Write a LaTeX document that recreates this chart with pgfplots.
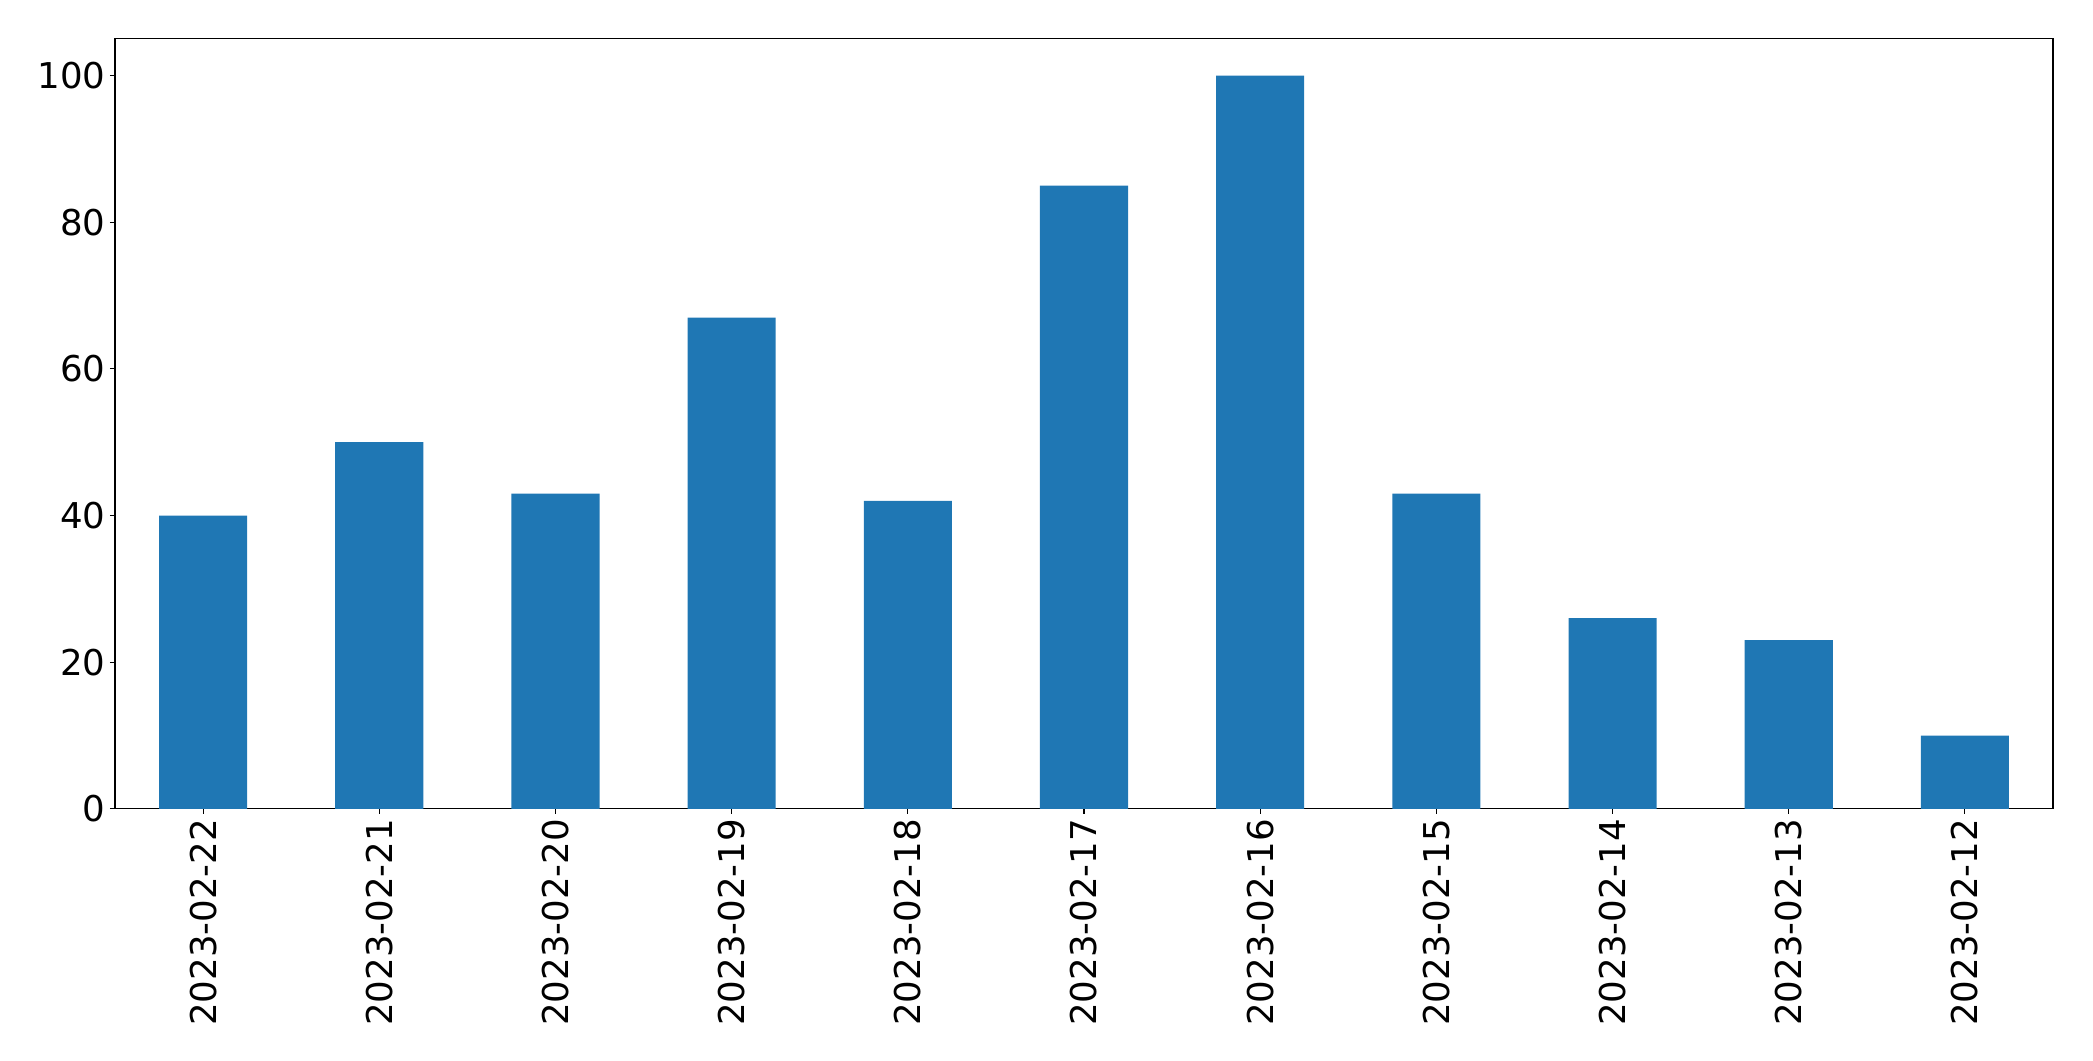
\documentclass[border=0pt]{standalone}
\usepackage{fontspec}
\setmainfont{DejaVu Sans}
\usepackage{pgfplots}
\pgfplotsset{compat=1.18}
\definecolor{mplblue}{HTML}{1F77B4}

\begin{document}
\begin{tikzpicture}
\begin{axis}[
    scale only axis,
    width=697.7bp, height=277.2bp,
    ybar, bar width=0.5, bar shift=0pt,
    xmin=-0.5, xmax=10.5,
    ymin=0, ymax=105,
    xtick=data,
    xticklabels={2023-02-22,2023-02-21,2023-02-20,2023-02-19,2023-02-18,2023-02-17,2023-02-16,2023-02-15,2023-02-14,2023-02-13,2023-02-12},
    ytick={0,20,40,60,80,100},
    tick align=outside,
    major tick length=1.8bp,
    xtick pos=bottom, ytick pos=left,
    axis line style={line width=0.4bp},
    every tick/.style={black, line width=0.4bp},
    tick label style={font=\fontsize{12.85}{15}\selectfont},
    xticklabel style={rotate=90, anchor=east, inner sep=0pt, xshift=-1.7bp},
    yticklabel style={inner sep=0pt, xshift=-1.5bp},
    /pgf/number format/assume math mode=true,
]
\addplot[fill=mplblue, draw=none] coordinates {
    (0,40) (1,50) (2,43) (3,67) (4,42) (5,85) (6,100) (7,43) (8,26) (9,23) (10,10)
};
\end{axis}
\path (current axis.south west) ++(-41.4bp,-90.7bp) coordinate (bl);
\path (current axis.north east) ++(14.4bp,14.0bp) coordinate (tr);
\useasboundingbox (bl) rectangle (tr);
\end{tikzpicture}
\end{document}
